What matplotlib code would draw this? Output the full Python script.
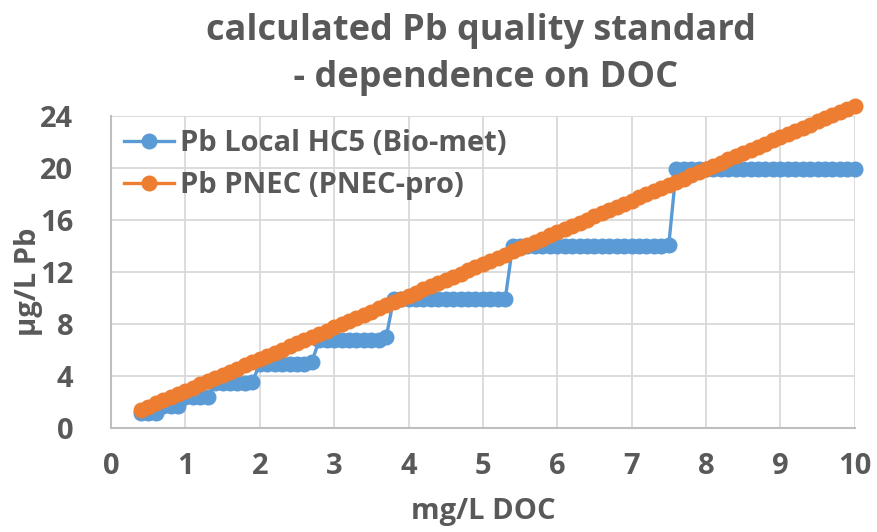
import matplotlib.pyplot as plt

plt.rcParams['font.family'] = ['Open Sans', 'DejaVu Sans']

# DOC in mg/L, 0.4 .. 10.0 step 0.1
doc = [0.4, 0.5, 0.6, 0.7, 0.8, 0.9, 1.0, 1.1, 1.2, 1.3,
       1.4, 1.5, 1.6, 1.7, 1.8, 1.9, 2.0, 2.1, 2.2, 2.3,
       2.4, 2.5, 2.6, 2.7, 2.8, 2.9, 3.0, 3.1, 3.2, 3.3,
       3.4, 3.5, 3.6, 3.7, 3.8, 3.9, 4.0, 4.1, 4.2, 4.3,
       4.4, 4.5, 4.6, 4.7, 4.8, 4.9, 5.0, 5.1, 5.2, 5.3,
       5.4, 5.5, 5.6, 5.7, 5.8, 5.9, 6.0, 6.1, 6.2, 6.3,
       6.4, 6.5, 6.6, 6.7, 6.8, 6.9, 7.0, 7.1, 7.2, 7.3,
       7.4, 7.5, 7.6, 7.7, 7.8, 7.9, 8.0, 8.1, 8.2, 8.3,
       8.4, 8.5, 8.6, 8.7, 8.8, 8.9, 9.0, 9.1, 9.2, 9.3,
       9.4, 9.5, 9.6, 9.7, 9.8, 9.9, 10.0]

local_hc5 = [1.15, 1.15, 1.15, 1.7, 1.7, 1.7, 2.4, 2.4, 2.4, 2.4,
             3.45, 3.45, 3.45, 3.45, 3.45, 3.55, 4.9, 4.9, 4.9, 4.9,
             4.9, 4.9, 4.9, 5.1, 6.75, 6.75, 6.75, 6.75, 6.75, 6.75,
             6.75, 6.75, 6.75, 7.0, 9.9, 9.9, 9.9, 9.9, 9.9, 9.9,
             9.9, 9.9, 9.9, 9.9, 9.9, 9.9, 9.9, 9.9, 9.9, 9.9,
             14.0, 14.0, 14.0, 14.0, 14.0, 14.0, 14.0, 14.0, 14.0, 14.0,
             14.0, 14.0, 14.0, 14.0, 14.0, 14.0, 14.0, 14.0, 14.0, 14.0,
             14.0, 14.1, 19.9, 19.9, 19.9, 19.9, 19.9, 19.9, 19.9, 19.9,
             19.9, 19.9, 19.9, 19.9, 19.9, 19.9, 19.9, 19.9, 19.9, 19.9,
             19.9, 19.9, 19.9, 19.9, 19.9, 19.9, 19.9]

pnec = [1.40, 1.64, 1.89, 2.13, 2.38, 2.62, 2.86, 3.11, 3.35, 3.59,
        3.84, 4.08, 4.33, 4.57, 4.81, 5.06, 5.30, 5.54, 5.79, 6.03,
        6.28, 6.52, 6.76, 7.01, 7.25, 7.49, 7.74, 7.98, 8.23, 8.47,
        8.71, 8.96, 9.20, 9.44, 9.69, 9.93, 10.18, 10.42, 10.66, 10.91,
        11.15, 11.39, 11.64, 11.88, 12.13, 12.37, 12.61, 12.86, 13.10, 13.34,
        13.59, 13.83, 14.08, 14.32, 14.56, 14.81, 15.05, 15.29, 15.54, 15.78,
        16.03, 16.27, 16.51, 16.76, 17.00, 17.24, 17.49, 17.73, 17.98, 18.22,
        18.46, 18.71, 18.95, 19.19, 19.44, 19.68, 19.93, 20.17, 20.41, 20.66,
        20.90, 21.14, 21.39, 21.63, 21.88, 22.12, 22.36, 22.61, 22.85, 23.09,
        23.34, 23.58, 23.83, 24.07, 24.31, 24.56, 24.80]

series_labels = ['Pb Local HC5 (Bio-met)', 'Pb PNEC (PNEC-pro)']
x_ticks = list(range(0, 11))
y_ticks = [0, 4, 8, 12, 16, 20, 24]

txt = '#595959'
blue = '#5b9bd5'
orange = '#ed7d31'

fig = plt.figure(figsize=(8.77, 5.32), dpi=100)
ax = fig.add_axes([0.1266, 0.1955, 0.848, 0.5865])

ax.plot(doc, local_hc5, color=blue, lw=2.4, marker='o', ms=10.5,
        label=series_labels[0], clip_on=False, zorder=3)
ax.plot(doc, pnec, color=orange, lw=2.4, marker='o', ms=10.5,
        label=series_labels[1], clip_on=False, zorder=4)

ax.set_xlim(0, 10)
ax.set_ylim(0, 24)
ax.set_xticks(x_ticks)
ax.set_yticks(y_ticks)
ax.grid(True, color='#d9d9d9', lw=1.3)
ax.set_axisbelow(True)
for s in ['top', 'right']:
    ax.spines[s].set_visible(False)
for s in ['left', 'bottom']:
    ax.spines[s].set_color('#bfbfbf')
    ax.spines[s].set_linewidth(1.5)

ax.tick_params(axis='both', length=0, labelsize=21, labelcolor=txt)
ax.tick_params(axis='x', pad=17)
ax.tick_params(axis='y', pad=27)
for lab in ax.get_xticklabels() + ax.get_yticklabels():
    lab.set_fontweight('bold')

ax.set_xlabel('mg/L DOC', fontsize=21, fontweight='bold', color=txt, labelpad=12)
ax.set_ylabel('µg/L Pb', fontsize=21, fontweight='bold', color=txt)
ax.yaxis.set_label_coords(-0.092, 0.47)

fig.text(0.548, 0.975, 'calculated Pb quality standard\n - dependence on DOC',
         ha='center', va='top', fontsize=26, fontweight='bold', color=txt,
         linespacing=1.4)

leg = ax.legend(loc='upper left', bbox_to_anchor=(0.0, 1.0), frameon=False,
                fontsize=21, handlelength=1.7, handletextpad=0.2,
                labelspacing=0.45, borderaxespad=0.05)
for t in leg.get_texts():
    t.set_color(txt)
    t.set_fontweight('bold')

fig.savefig('out.png', dpi=100)
